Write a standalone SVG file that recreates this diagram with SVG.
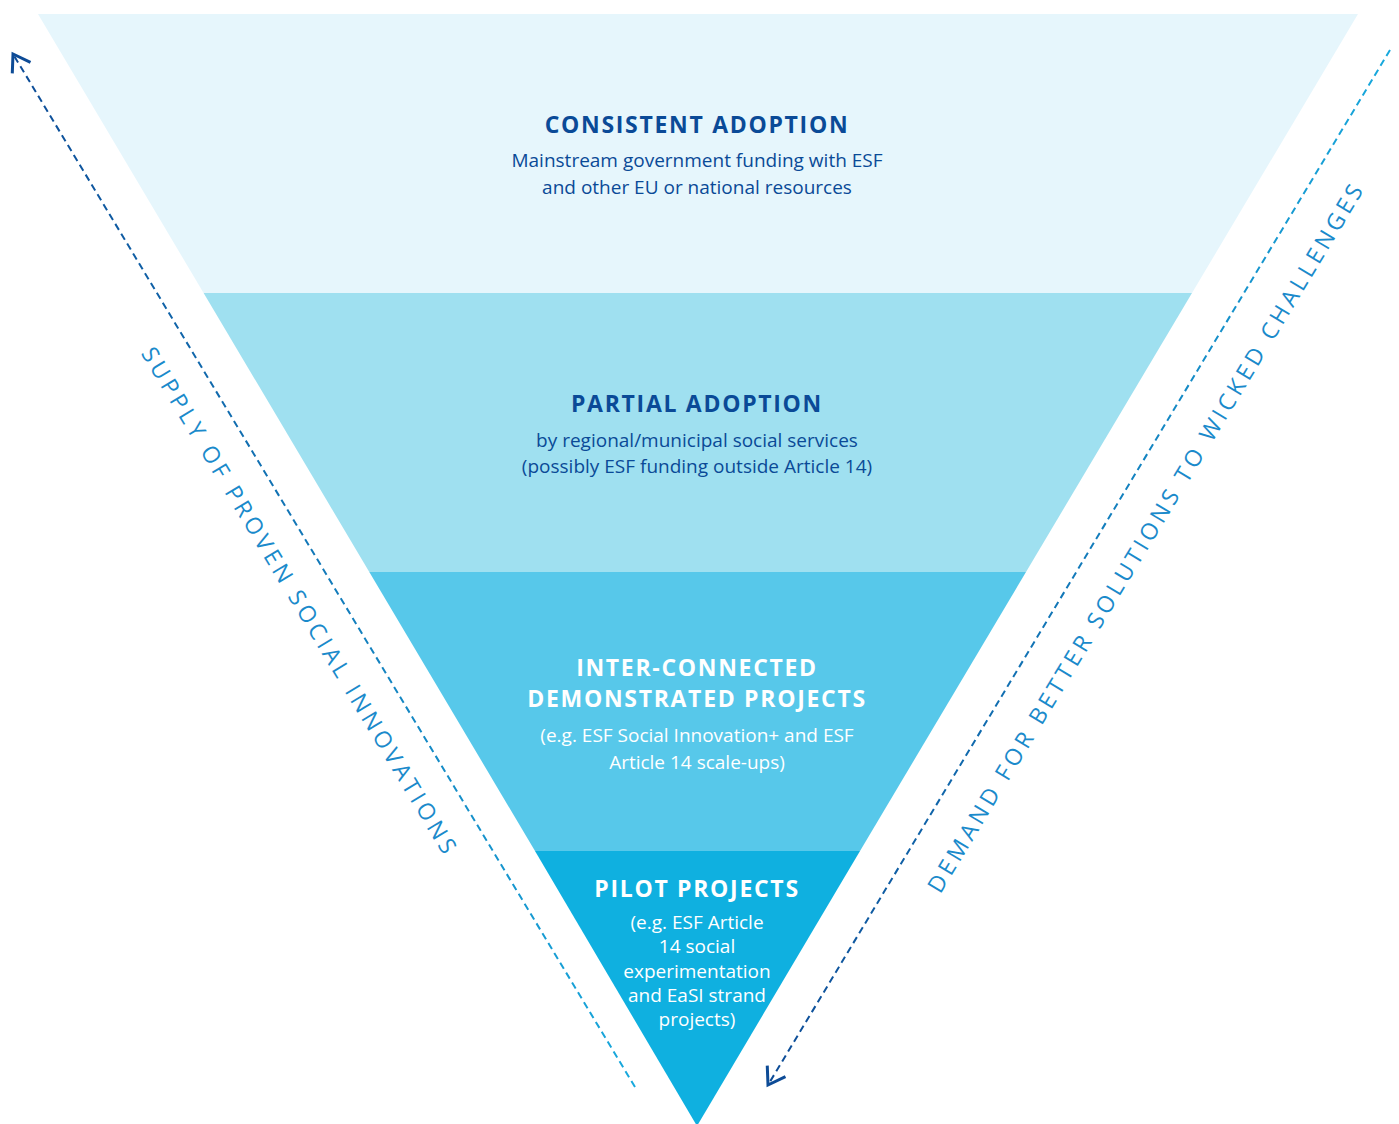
<svg xmlns="http://www.w3.org/2000/svg" width="1399" height="1124" viewBox="0 0 1399 1124">
<defs>
<style>
.t{font-family:"Open Sans","Liberation Sans",sans-serif;font-weight:700;font-size:23px;letter-spacing:1.7px;text-anchor:middle}
.s{font-family:"Open Sans","Liberation Sans",sans-serif;font-size:19px;text-anchor:middle}
.dk{fill:#0A4A97}
.wh{fill:#FFFFFF}
.side{font-family:"Open Sans","Liberation Sans",sans-serif;font-size:23px;letter-spacing:3.8px;fill:#1A8ACB;text-anchor:middle}
.dash{fill:none;stroke-width:2;stroke-dasharray:7 4.5}
</style>
<linearGradient id="gl" gradientUnits="userSpaceOnUse" x1="13" y1="54" x2="635" y2="1087">
<stop offset="0" stop-color="#0D4B96"/><stop offset="1" stop-color="#18A9DD"/>
</linearGradient>
<linearGradient id="gr" gradientUnits="userSpaceOnUse" x1="1390" y1="50" x2="768" y2="1085">
<stop offset="0" stop-color="#18A9DD"/><stop offset="1" stop-color="#0D4B96"/>
</linearGradient>
<marker id="ah" markerUnits="userSpaceOnUse" markerWidth="30" markerHeight="30" refX="0" refY="0" viewBox="-16 -12 20 24" orient="auto-start-reverse">
<path d="M-13,-8.5 L0,0 L-13,8.5" fill="none" stroke="#0D4B96" stroke-width="2.4"/>
</marker>
</defs>
<g id="band-consistent">
<polygon points="38,14 1358,14 1192,293 203.6,293" fill="#E6F6FC"/>
<text class="t dk" x="697" y="133">CONSISTENT ADOPTION</text>
<text class="s dk" x="697" y="167">Mainstream government funding with ESF</text>
<text class="s dk" x="697" y="194">and other EU or national resources</text>
</g>
<g id="band-partial">
<polygon points="203.6,293 1192,293 1026,572 369.3,572" fill="#9FE0F0"/>
<text class="t dk" x="697" y="412">PARTIAL ADOPTION</text>
<text class="s dk" x="697" y="447">by regional/municipal social services</text>
<text class="s dk" x="697" y="473">(possibly ESF funding outside Article 14)</text>
</g>
<g id="band-interconnected">
<polygon points="369.3,572 1026,572 860,851 535,851" fill="#57C8EA"/>
<text class="t wh" x="697" y="676">INTER-CONNECTED</text>
<text class="t wh" x="697" y="707">DEMONSTRATED PROJECTS</text>
<text class="s wh" x="697" y="742">(e.g. ESF Social Innovation+ and ESF</text>
<text class="s wh" x="697" y="769">Article 14 scale-ups)</text>
</g>
<g id="band-pilot">
<polygon points="535,851 860,851 697,1126" fill="#0FB0E0"/>
<text class="t wh" x="697" y="897">PILOT PROJECTS</text>
<text class="s wh" x="697" y="929">(e.g. ESF Article</text>
<text class="s wh" x="697" y="953">14 social</text>
<text class="s wh" x="697" y="978">experimentation</text>
<text class="s wh" x="697" y="1002">and EaSI strand</text>
<text class="s wh" x="697" y="1026">projects)</text>
</g>
<g id="connectors">
<line class="dash" x1="635" y1="1087" x2="13" y2="54" stroke="url(#gl)" marker-end="url(#ah)"/>
<line class="dash" x1="1390" y1="50" x2="768" y2="1085" stroke="url(#gr)" marker-end="url(#ah)"/>
</g>
<g id="label-supply">
<text class="side" transform="translate(293,606) rotate(58.9)">SUPPLY OF PROVEN SOCIAL INNOVATIONS</text>
</g>
<g id="label-demand">
<text class="side" transform="translate(1153,541) rotate(-58.96)">DEMAND FOR BETTER SOLUTIONS TO WICKED CHALLENGES</text>
</g>
</svg>
